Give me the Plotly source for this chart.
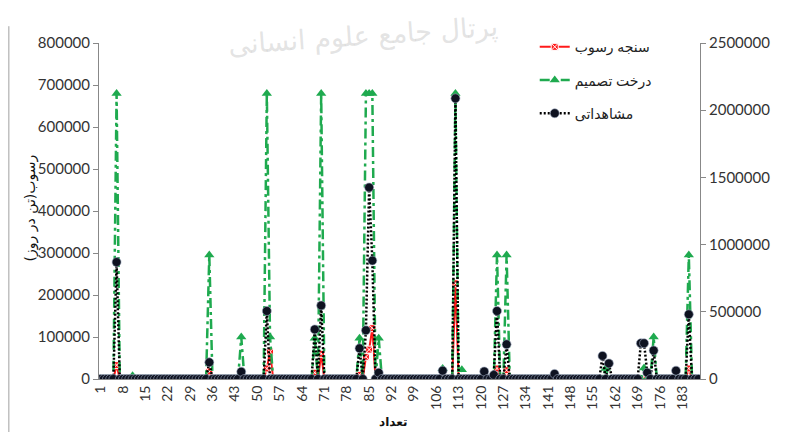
import plotly.graph_objects as go

# ---------------- data ----------------
categories = list(range(1, 189))

# سنجه رسوب (left axis, ton/day)
rating_curve = [
    0, 0, 0, 0, 0, 33000, 0, 0, 0, 0,
    0, 0, 0, 0, 0, 0, 0, 0, 0, 0,
    0, 0, 0, 0, 0, 0, 0, 0, 0, 0,
    0, 0, 0, 0, 18000, 0, 0, 0, 0, 0,
    0, 0, 0, 0, 5000, 0, 0, 0, 0, 0,
    0, 0, 25000, 65000, 0, 0, 0, 0, 0, 0,
    0, 0, 0, 0, 0, 0, 0, 15000, 0, 60000,
    0, 0, 0, 0, 0, 0, 0, 0, 0, 0,
    0, 10000, 0, 53000, 70000, 121000, 0, 0, 0, 0,
    0, 0, 0, 0, 0, 0, 0, 0, 0, 0,
    0, 0, 0, 0, 0, 0, 0, 5000, 0, 0,
    0, 228000, 0, 0, 0, 0, 0, 0, 0, 0,
    0, 0, 0, 0, 25000, 0, 0, 21000, 0, 0,
    0, 0, 0, 0, 0, 0, 0, 0, 0, 0,
    0, 0, 0, 0, 0, 0, 0, 0, 0, 0,
    0, 0, 0, 0, 0, 0, 0, 0, 0, 0,
    0, 0, 0, 0, 0, 0, 0, 0, 0, 0,
    0, 0, 0, 0, 0, 0, 0, 0, 0, 0,
    0, 0, 0, 0, 25000, 0, 0, 0,
]

# درخت تصمیم (left axis)
decision_tree = [
    0, 0, 0, 0, 0, 680000, 0, 0, 0, 0,
    8000, 0, 0, 0, 0, 0, 0, 0, 0, 0,
    0, 0, 0, 0, 0, 0, 0, 0, 0, 0,
    0, 0, 0, 0, 295000, 0, 0, 0, 0, 0,
    0, 0, 0, 0, 100000, 0, 0, 0, 0, 0,
    0, 0, 680000, 100000, 0, 0, 0, 0, 0, 0,
    0, 0, 0, 0, 0, 0, 0, 97000, 0, 680000,
    0, 0, 0, 0, 0, 0, 0, 0, 0, 0,
    0, 97000, 0, 680000, 680000, 680000, 0, 97000, 0, 0,
    0, 0, 0, 0, 0, 0, 0, 0, 0, 0,
    0, 0, 0, 0, 0, 0, 0, 25000, 0, 0,
    0, 680000, 0, 22000, 0, 0, 0, 0, 0, 0,
    0, 0, 0, 0, 295000, 0, 0, 295000, 0, 0,
    0, 0, 0, 0, 0, 0, 0, 0, 0, 0,
    0, 0, 0, 0, 0, 0, 0, 0, 0, 0,
    0, 0, 0, 0, 0, 0, 0, 0, 25000, 0,
    0, 0, 0, 0, 0, 0, 0, 0, 0, 0,
    26000, 0, 0, 100000, 0, 0, 0, 0, 0, 0,
    0, 0, 0, 0, 295000, 0, 0, 0,
]

# مشاهداتی (right axis)
observed = [
    0, 0, 0, 0, 0, 870000, 0, 0, 0, 0,
    0, 0, 0, 0, 0, 0, 0, 0, 0, 0,
    0, 0, 0, 0, 0, 0, 0, 0, 0, 0,
    0, 0, 0, 0, 124000, 0, 0, 0, 0, 0,
    0, 0, 0, 0, 54000, 0, 0, 0, 0, 0,
    0, 0, 506000, 0, 0, 0, 0, 0, 0, 0,
    0, 0, 0, 0, 0, 0, 0, 369000, 0, 547000,
    0, 0, 0, 0, 0, 0, 0, 0, 0, 0,
    0, 228000, 0, 362000, 1425000, 881000, 0, 47000, 0, 0,
    0, 0, 0, 0, 0, 0, 0, 0, 0, 0,
    0, 0, 0, 0, 0, 0, 0, 62000, 0, 0,
    0, 2088000, 0, 0, 0, 0, 0, 0, 0, 0,
    56000, 0, 0, 30000, 506000, 0, 0, 258000, 0, 0,
    0, 0, 0, 0, 0, 0, 0, 0, 0, 0,
    0, 0, 38000, 0, 0, 0, 0, 0, 0, 0,
    0, 0, 0, 0, 0, 0, 0, 172000, 0, 116000,
    0, 0, 0, 0, 0, 0, 0, 0, 0, 266000,
    266000, 47000, 0, 212000, 0, 0, 0, 0, 0, 0,
    62000, 0, 0, 0, 481000, 0, 0, 0,
]

x_tick_values = [1, 8, 15, 22, 29, 36, 43, 50, 57, 64, 71, 78, 85, 92, 99, 106,
                 113, 120, 127, 134, 141, 148, 155, 162, 169, 176, 183]
x_tick_labels = ["1", "8", "15", "22", "29", "36", "43", "50", "57", "64", "71", "78",
                 "85", "92", "99", "106", "113", "120", "127", "134", "141", "148",
                 "155", "162", "169", "176", "183"]

series_names = ["سنجه رسوب", "درخت تصمیم", "مشاهداتی"]
y_title = "\u200fرسوب(تن در روز)\u200f"
x_title = "تعداد"
watermark = "پرتال جامع علوم انسانی"

FONT = "Lato, 'DejaVu Sans', sans-serif"

fig = go.Figure()

fig.add_trace(go.Scatter(
    x=categories, y=rating_curve, name=series_names[0], mode="lines+markers",
    legendgroup="a",
    line=dict(color="#ff1a1a", width=2),
    marker=dict(symbol="square-x", size=7, color="#ff1a1a",
                line=dict(color="white", width=1)),
    yaxis="y",
))
fig.add_trace(go.Scatter(
    x=categories, y=decision_tree, name=series_names[1], mode="lines+markers",
    legendgroup="b",
    line=dict(color="#1faa4f", width=2.5, dash="10px,4px,3px,4px"),
    marker=dict(symbol="triangle-up", size=9, color="#1faa4f"),
    yaxis="y",
))
fig.add_trace(go.Scatter(
    x=categories, y=observed, name=series_names[2], mode="lines+markers",
    legendgroup="c",
    line=dict(color="black", width=2.5, dash="2px,2px"),
    marker=dict(symbol="circle", size=9, color="#0e1220",
                line=dict(color="rgba(160,172,195,0.85)", width=0.7)),
    yaxis="y2",
))

# the page body adds an 8px offset, so the figure is 8px smaller on each axis
fig.update_layout(
    width=788, height=424,
    margin=dict(l=91, r=96, t=35, b=53),
    paper_bgcolor="white", plot_bgcolor="white",
    font=dict(family=FONT, size=15, color="#333333"),
    showlegend=True,
    legend=dict(x=0.725, y=1.035, xanchor="left", yanchor="top",
                bgcolor="rgba(0,0,0,0)", font=dict(size=14, color="#222"),
                traceorder="grouped", tracegroupgap=12),
    xaxis=dict(
        range=[0.5, 188.5], tickmode="array", tickvals=x_tick_values,
        ticktext=x_tick_labels, tickangle=-90, showgrid=False, zeroline=False,
        showline=True, linecolor="#888888", linewidth=1, ticks="",
        tickfont=dict(size=14), automargin=False,
    ),
    yaxis=dict(
        range=[0, 800000], dtick=100000, tickformat="d", showgrid=False,
        zeroline=False, showline=True, linecolor="#888888", linewidth=1,
        ticks="outside", ticklen=5, tickcolor="#888888", automargin=False,
    ),
    yaxis2=dict(
        range=[0, 2500000], dtick=500000, tickformat="d", overlaying="y",
        side="right", showgrid=False, zeroline=False, showline=True,
        linecolor="#888888", linewidth=1, ticks="outside", ticklen=5,
        tickcolor="#888888", automargin=False,
    ),
    annotations=[
        dict(text=y_title, textangle=-90, xref="paper", yref="paper",
             x=-0.131, y=0.51, showarrow=False,
             font=dict(size=14, color="#111", family="'DejaVu Sans', sans-serif")),
        dict(text="<b>" + x_title + "</b>", xref="paper", yref="paper",
             x=0.489, y=-0.128, showarrow=False, yanchor="middle",
             font=dict(size=12, color="#111", family="'DejaVu Sans', sans-serif")),
        dict(text=watermark, xref="paper", yref="paper", x=0.44, y=1.02,
             showarrow=False, yanchor="middle", textangle=-4,
             font=dict(size=27, color="rgba(185,185,185,0.4)",
                       family="'DejaVu Sans', sans-serif")),
    ],
    shapes=[
        dict(type="line", xref="paper", yref="paper", x0=-0.150, x1=-0.150,
             y0=-0.2, y1=1.05, line=dict(color="#a0a0a0", width=1)),
    ],
)

fig.write_html("out.html")
